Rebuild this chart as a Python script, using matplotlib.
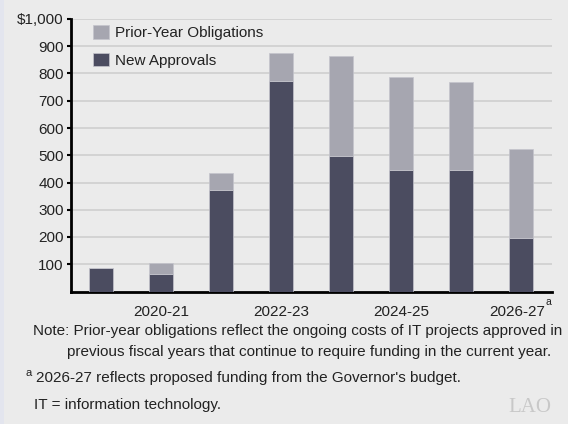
import matplotlib
matplotlib.use("Agg")
import matplotlib.pyplot as plt
from matplotlib.patches import Rectangle
from matplotlib.transforms import ScaledTranslation

plt.rcParams['font.family'] = ['Liberation Sans', 'DejaVu Sans']

# Fiscal years and funding (millions of dollars)
years = ["2019-20", "2020-21", "2021-22", "2022-23",
         "2023-24", "2024-25", "2025-26", "2026-27"]
new_approvals = [85, 64, 374, 772, 498, 445, 446, 196]
prior_year = [0, 39, 62, 104, 365, 342, 322, 327]
y_ticks = [100, 200, 300, 400, 500, 600, 700, 800, 900, 1000]
y_tick_labels = ["100", "200", "300", "400", "500", "600", "700", "800", "900", "$1,000"]
shown_years = ["2020-21", "2022-23", "2024-25", "2026-27"]

bg = "#ebebeb"
dark = "#4b4c60"
light = "#a6a6b0"
text_col = "#222222"
fs = 11

W, H = 568, 424


def fx(px):
    return px / W


def fy(py):
    return 1 - py / H


fig = plt.figure(figsize=(W / 100, H / 100), dpi=100, facecolor=bg)
# thin tinted strip on the left edge
fig.patches.append(Rectangle((0, 0), fx(4), 1, transform=fig.transFigure,
                             facecolor="#e3e5ee", edgecolor="none"))

ax = fig.add_axes([fx(70.7), fy(291.5), fx(552 - 70.7), (291.5 - 19) / H])
ax.set_facecolor(bg)

x = list(range(len(years)))
ax.bar(x, new_approvals, width=0.4, color=dark, edgecolor="#c4c4cc", linewidth=0.5,
       label="New Approvals", zorder=3)
ax.bar(x, prior_year, width=0.4, bottom=new_approvals, color=light, edgecolor="#c4c4cc",
       linewidth=0.5, label="Prior-Year Obligations", zorder=3)

ax.set_xlim(-0.505, 7.52)
ax.set_ylim(0, 1000)
ax.set_yticks(y_ticks)
ax.set_yticklabels(y_tick_labels)
ax.yaxis.grid(True, color="#cfcfcf", linewidth=1.2, zorder=0)
ax.tick_params(axis="y", length=3, width=1.5, color="black", pad=2,
               labelsize=fs, labelcolor=text_col)

tick_pos = [years.index(y) for y in shown_years]
ax.set_xticks(tick_pos)
ax.set_xticklabels(shown_years)
ax.tick_params(axis="x", length=0, pad=10, labelsize=fs, labelcolor=text_col)
# nudge the last label left to leave room for its footnote marker
last = ax.get_xticklabels()[-1]
last.set_transform(last.get_transform() + ScaledTranslation(-0.04, 0, fig.dpi_scale_trans))

for side in ("top", "right"):
    ax.spines[side].set_visible(False)
for side in ("left", "bottom"):
    ax.spines[side].set_linewidth(2)
    ax.spines[side].set_color("black")

# superscript footnote marker on the last label
fig.text(fx(546), fy(302), "a", fontsize=7.5, color=text_col, ha="left", va="center")

handles, labels = ax.get_legend_handles_labels()
leg = ax.legend(handles[::-1], labels[::-1], loc="upper left",
                bbox_to_anchor=(fx(93), fy(25)), bbox_transform=fig.transFigure,
                frameon=False, fontsize=fs, borderpad=0, borderaxespad=0,
                handlelength=1.05, handleheight=1.0, handletextpad=0.4,
                labelspacing=0.83, labelcolor=text_col)

fig.text(fx(33), fy(331),
         "Note: Prior-year obligations reflect the ongoing costs of IT projects approved in",
         fontsize=fs, color=text_col, va="center")
fig.text(fx(67), fy(352),
         "previous fiscal years that continue to require funding in the current year.",
         fontsize=fs, color=text_col, va="center")
fig.text(fx(25), fy(373), "a", fontsize=8, color=text_col, va="center")
fig.text(fx(36), fy(378),
         "2026-27 reflects proposed funding from the Governor's budget.",
         fontsize=fs, color=text_col, va="center")
fig.text(fx(34), fy(405), "IT = information technology.",
         fontsize=fs, color=text_col, va="center")
fig.text(fx(508), fy(407), "LAO", fontsize=15, color="#c8c8c8",
         family=["Liberation Serif", "DejaVu Serif"], va="center")

fig.savefig("out.png", dpi=100, facecolor=bg)
